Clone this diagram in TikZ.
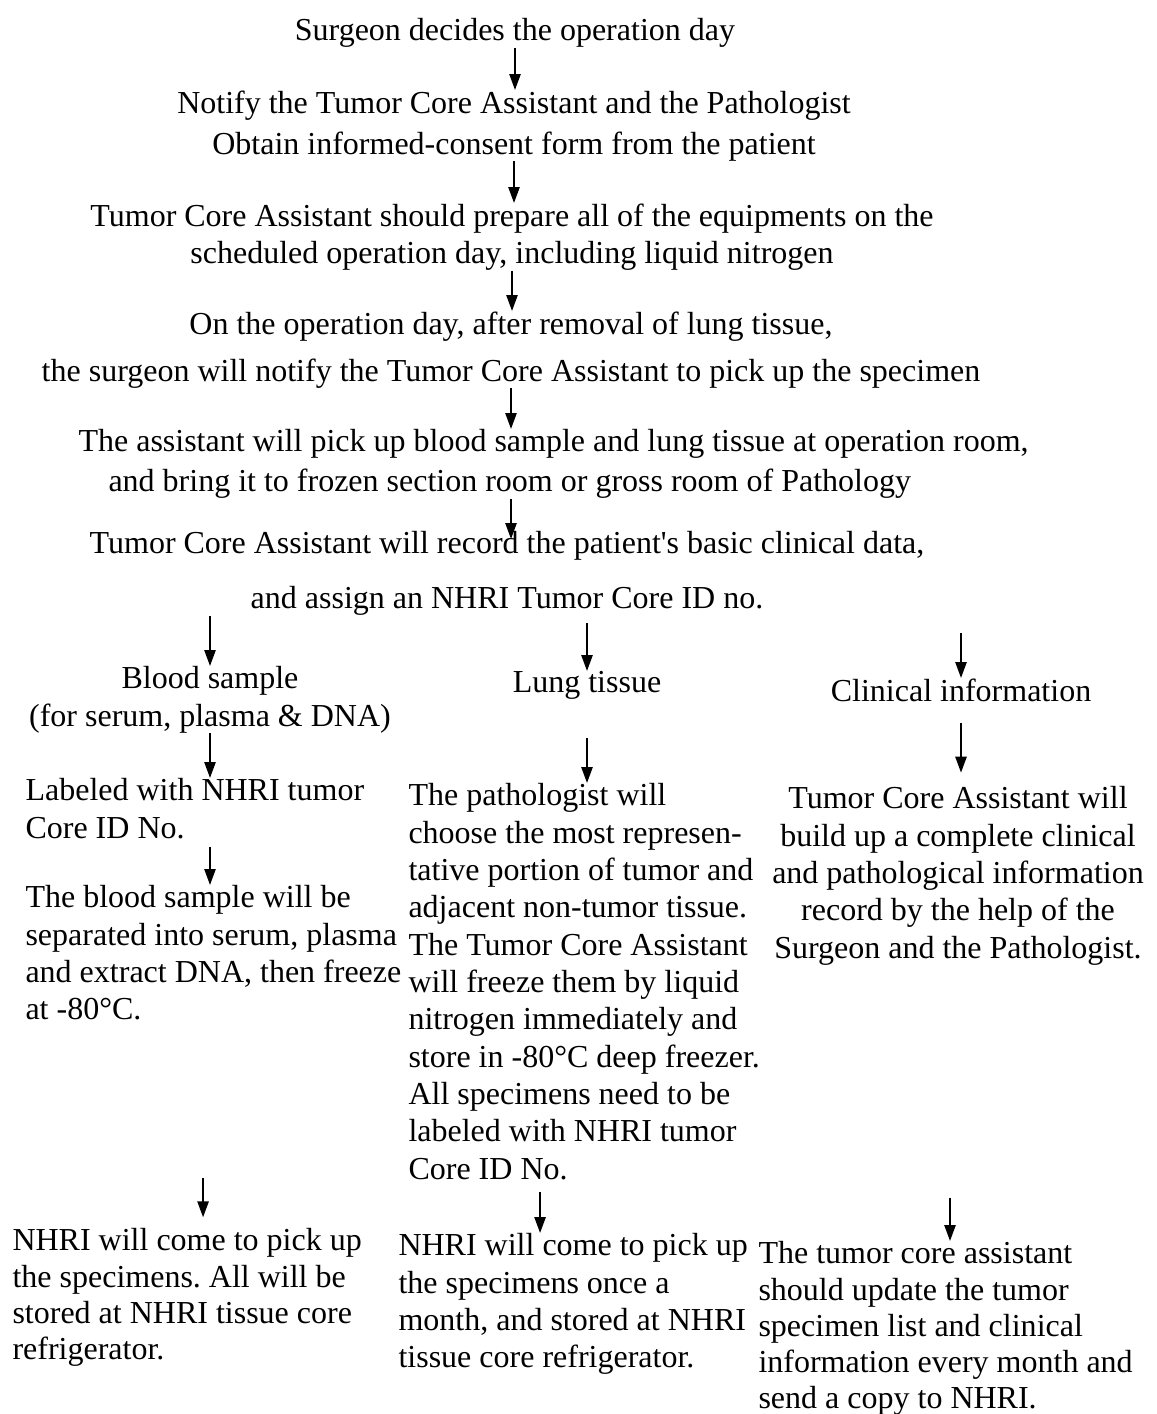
\documentclass[tikz,border=0pt]{standalone}
\usepackage{fontspec}
\setmainfont{Liberation Serif}
\usetikzlibrary{arrows.meta}
\frenchspacing

\begin{document}
\begin{tikzpicture}[x=0.375pt,y=-0.375pt,
  txt/.style={inner sep=0pt,font=\fontsize{12}{14}\selectfont},
  midtxt/.style={txt,anchor=north,align=center},
  coltxt/.style={txt,anchor=north west,align=left},
  tight/.style={font=\fontsize{12}{13.6}\selectfont},
  arr/.style={line width=0.75pt,-{Triangle[length=6pt,width=4.2pt]}}]
  \useasboundingbox[fill=white] (0,0) rectangle (1157,1414);
   \node[midtxt] (surg) at (515,18) {Surgeon decides the operation day};
   \node[midtxt] (notify) at (514,90) {Notify the Tumor Core Assistant and the Pathologist\\[1.4pt]
     Obtain informed-consent form from the patient};
   \node[midtxt] (prep) at (512,203) {Tumor Core Assistant should prepare all of the equipments on the\\
     scheduled operation day, including liquid nitrogen};
   \node[midtxt] (pick) at (511,311) {On the operation day, after removal of lung tissue,\\[3.6pt]
     the surgeon will notify the Tumor Core Assistant to pick up the specimen};
   \node[coltxt] (carry) at (78,429) {The assistant will pick up blood sample and lung tissue at operation room,\\[1pt]
     \hspace*{11.25pt}and bring it to frozen section room or gross room of Pathology};
   \node[midtxt] (rec) at (507,531) {Tumor Core Assistant will record the patient\textquotesingle s basic clinical data,\\[6.6pt]
     and assign an NHRI Tumor Core ID no.};
   \node[midtxt] (blood) at (210,666) {Blood sample\\(for serum, plasma \& DNA)};
   \node[midtxt] (lung) at (587,671) {Lung tissue};
   \node[midtxt] (clin) at (961,678) {Clinical information};
   \node[coltxt] (lab) at (25,778) {Labeled with NHRI tumor\\Core ID No.};
   \node[coltxt] (frz) at (25,885) {The blood sample will be\\separated into serum, plasma\\
     and extract DNA, then freeze\\at -80°C.};
   \node[coltxt] (patho) at (408,783) {The pathologist will\\choose the most represen-\\
     tative portion of tumor and\\adjacent non-tumor tissue.\\The Tumor Core Assistant\\
     will freeze them by liquid\\nitrogen immediately and\\store in -80°C deep freezer.\\
     All specimens need to be\\labeled with NHRI tumor\\Core ID No.};
   \node[midtxt] (build) at (958,786) {Tumor Core Assistant will\\build up a complete clinical\\
     and pathological information\\record by the help of the\\Surgeon and the Pathologist.};
   \node[coltxt,tight] (pick1) at (12,1228) {NHRI will come to pick up\\the specimens. All will be\\
     stored at NHRI tissue core\\refrigerator.};
   \node[coltxt] (pick2) at (398,1233) {NHRI will come to pick up\\the specimens once a\\
     month, and stored at NHRI\\tissue core refrigerator.};
   \node[coltxt,tight] (upd) at (758,1241) {The tumor core assistant\\should update the tumor\\
     specimen list and clinical\\information every month and\\send a copy to NHRI.};
   \draw[arr] (surg.south) -- (surg.south |- notify.north);
   \draw[arr] (notify.south) -- (notify.south |- prep.north);
   \draw[arr] (prep.south) -- (prep.south |- pick.north);
   \draw[arr] (pick.south) -- (pick.south |- carry.north);
   \draw[arr,shorten >=-3pt] (carry.south -| pick.south) -- (pick.south |- rec.north);
   \draw[arr] (rec.south -| blood.north) -- (blood.north);
   \draw[arr,shorten <=2.6pt] (rec.south -| lung.north) -- (lung.north);
   \draw[arr,shorten <=6.4pt] (rec.south -| clin.north) -- (clin.north);
   \draw[arr] (blood.south) -- (blood.south |- lab.north);
   \draw[arr,shorten <=3pt] (lab.south -| blood.south) -- (blood.south |- frz.north);
   \draw[arr,shorten <=59pt,shorten >=4pt] ([xshift=-2.6pt]frz.south -| blood.south) -- ([xshift=-2.6pt]blood.south |- pick1.north);
   \draw[arr,shorten <=14pt] (lung.south) -- (lung.south |- patho.north);
   \draw[arr,shorten <=4.5pt] ([xshift=-17.6pt]lung.south |- patho.south) -- ([xshift=-17.6pt]lung.south |- pick2.north);
   \draw[arr,shorten <=8pt,shorten >=5pt] (clin.south) -- (clin.south |- build.north);
   \draw[arr,shorten <=87pt] ([xshift=-3pt]build.south) -- ([xshift=-3pt]build.south |- upd.north);
 \end{tikzpicture}
\end{document}
